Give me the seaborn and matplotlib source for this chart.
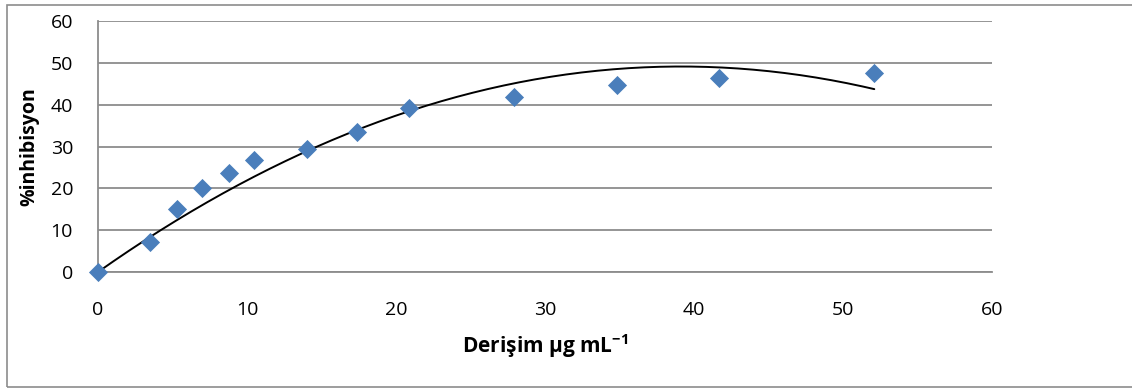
import numpy as np
import pandas as pd
import matplotlib
matplotlib.use('Agg')
import matplotlib.pyplot as plt
import seaborn as sns
from matplotlib.patches import Rectangle

# data
derisim = [0, 3.5, 5.3, 7.0, 8.8, 10.5, 14.0, 17.4, 20.9, 27.9, 34.8, 41.7, 52.1]
inhibisyon = [0, 7.2, 15.1, 20.1, 23.7, 26.8, 29.5, 33.5, 39.2, 41.8, 44.8, 46.3, 47.5]
x_ticks = [0, 10, 20, 30, 40, 50, 60]
y_ticks = [0, 10, 20, 30, 40, 50, 60]

df = pd.DataFrame({'derisim': derisim, 'inhibisyon': inhibisyon})

# 2nd order trendline through the origin (like the Excel trendline)
xv = np.array(derisim)
A = np.column_stack([xv, xv ** 2])
coef, *_ = np.linalg.lstsq(A, np.array(inhibisyon), rcond=None)
xs = np.linspace(0, max(derisim), 200)
trend = pd.DataFrame({'derisim': xs, 'inhibisyon': coef[0] * xs + coef[1] * xs ** 2})

sns.set_style('white')
plt.rcParams['font.family'] = ['Open Sans', 'DejaVu Sans']
plt.rcParams['mathtext.fontset'] = 'custom'
plt.rcParams['mathtext.rm'] = 'Open Sans'
plt.rcParams['mathtext.bf'] = 'Open Sans:bold'

fig = plt.figure(figsize=(11.32, 3.89), dpi=100)
ax = fig.add_axes([98 / 1132, 1 - 272 / 389, (992 - 98) / 1132, (272 - 21) / 389])

sns.lineplot(data=trend, x='derisim', y='inhibisyon', color='black', linewidth=1.4,
             zorder=2, ax=ax)
sns.scatterplot(data=df, x='derisim', y='inhibisyon', marker='D', s=95,
                color='#4A7EBB', linewidth=0, zorder=3, clip_on=False, ax=ax)

ax.set_xlim(0, 60)
ax.set_ylim(0, 60)
ax.set_xticks(x_ticks)
ax.set_yticks(y_ticks)
ax.tick_params(axis='both', length=0, labelsize=14, labelcolor='black')
ax.tick_params(axis='y', pad=18)
ax.tick_params(axis='x', pad=21)
ax.yaxis.grid(True, color='#8C8C8C', linewidth=1.3)
ax.xaxis.grid(False)
ax.set_axisbelow(True)
for side in ['top', 'right']:
    ax.spines[side].set_visible(False)
for side in ['left', 'bottom']:
    ax.spines[side].set_color('#8C8C8C')
    ax.spines[side].set_linewidth(1.3)

ax.set_xlabel(r'Derişim µg mL$^{\mathbf{-1}}$', fontsize=15, fontweight='bold',
              color='black', labelpad=9)
ax.set_ylabel('%inhibisyon', fontsize=14, fontweight='bold', color='black', labelpad=8)

# outer chart border (right edge falls outside the picture)
fig.add_artist(Rectangle((7 / 1132, 2 / 389), 1140 / 1132, 382 / 389, transform=fig.transFigure,
                         fill=False, edgecolor='#8C8C8C', linewidth=1.2))

fig.savefig('out.png', dpi=100)
